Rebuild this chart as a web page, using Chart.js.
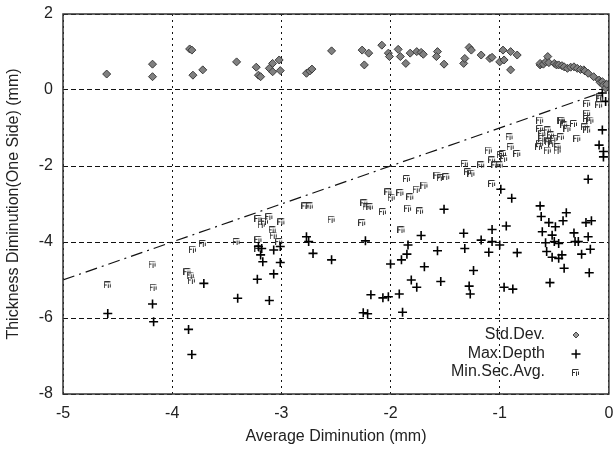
<!DOCTYPE html>
<html>
<head>
<meta charset="utf-8">
<script src="https://cdn.jsdelivr.net/npm/chart.js@4/dist/chart.umd.min.js"></script>
<style>
html,body{margin:0;padding:0;background:#fff;}
#wrap{width:615px;height:450px;position:relative;}
</style>
</head>
<body>
<div id="wrap"><canvas id="c" width="615" height="450"></canvas></div>
<script>
// ---- data ----
const xTicks = [-5, -4, -3, -2, -1, 0];
const yTicks = [2, 0, -2, -4, -6, -8];
const seriesNames = ['Std.Dev.', 'Max.Depth', 'Min.Sec.Avg.'];

const stdX = [-4.60,-4.18,-4.18,-3.84,-3.82,-3.81,-3.72,-3.41,-3.23,-3.21,-3.19,-3.11,-3.08,-3.08,-3.02,-3.01,-2.77,-2.74,-2.72,-2.54,-2.26,-2.20,-2.24,-2.08,-2.02,-2.01,-1.93,-1.91,-1.86,-1.82,-1.76,-1.72,-1.70,-1.57,-1.58,-1.51,-1.33,-1.32,-1.28,-1.26,-1.17,-1.09,-1.07,-1.00,-0.97,-0.96,-0.90,-0.84,-0.90,-0.63,-0.63,-0.60,-0.58,-0.56,-0.55,-0.50,-0.48,-0.46,-0.43,-0.41,-0.38,-0.35,-0.32,-0.29,-0.26,-0.23,-0.22,-0.19,-0.14,-0.09,-0.08,-0.06,-0.05,-0.03,-0.02];
const stdY = [0.42,0.68,0.35,1.08,1.05,0.39,0.53,0.74,0.60,0.39,0.35,0.57,0.70,0.48,0.79,0.51,0.44,0.50,0.55,1.03,1.05,0.97,0.66,1.18,0.97,0.88,1.07,0.88,0.70,0.97,1.01,0.99,0.94,1.01,0.88,0.68,0.70,0.83,1.12,1.05,0.92,0.83,0.86,0.74,1.05,0.79,1.01,0.92,0.53,0.66,0.70,0.68,0.74,0.88,0.72,0.70,0.66,0.66,0.64,0.61,0.57,0.60,0.61,0.57,0.54,0.53,0.50,0.44,0.35,0.26,0.20,0.22,0.13,0.05,0.15];

const maxX = [-4.59,-4.18,-4.17,-3.85,-3.82,-3.71,-3.40,-3.11,-3.22,-3.07,-3.21,-3.18,-3.19,-3.17,-3.07,-3.01,-3.01,-2.77,-2.75,-2.71,-2.54,-2.18,-2.23,-2.25,-2.21,-1.51,-1.72,-1.84,-1.85,-1.90,-2.00,-1.69,-1.57,-1.81,-1.76,-1.54,-1.33,-1.32,-1.28,-1.27,-1.24,-1.17,-1.07,-1.07,-1.10,-1.00,-0.94,-0.96,-0.88,-0.84,-2.07,-2.02,-1.92,-1.89,-0.99,-0.89,-0.63,-0.62,-0.61,-0.55,-0.49,-0.39,-0.42,-0.52,-0.58,-0.50,-0.46,-0.57,-0.52,-0.46,-0.43,-0.41,-0.54,-0.32,-0.31,-0.28,-0.21,-0.16,-0.19,-0.17,-0.25,-0.18,-0.06,-0.09,-0.05,-0.05,-0.19,-0.06,-0.03];
const maxY = [-5.88,-5.63,-6.10,-6.30,-6.96,-5.09,-5.48,-5.54,-4.98,-4.84,-4.12,-4.17,-4.34,-4.52,-4.21,-4.12,-4.54,-3.86,-3.99,-4.30,-4.47,-5.39,-3.97,-5.86,-5.89,-3.14,-3.83,-4.08,-4.32,-4.47,-4.58,-4.65,-4.23,-5.00,-5.19,-5.04,-3.77,-4.17,-5.16,-5.37,-4.75,-3.95,-3.67,-3.99,-4.27,-4.08,-3.58,-5.19,-5.24,-4.28,-5.47,-5.44,-5.37,-5.85,-2.61,-2.85,-3.05,-3.33,-3.73,-3.49,-3.60,-3.23,-3.44,-3.82,-4.02,-3.99,-4.04,-4.25,-4.40,-4.43,-4.34,-4.69,-5.07,-3.76,-3.99,-3.99,-3.49,-3.44,-3.86,-4.19,-4.32,-4.81,-1.05,-1.45,-1.62,-1.76,-2.35,-0.08,-0.30];

const minX = [-4.59,-4.18,-4.17,-3.86,-3.83,-3.82,-3.81,-3.72,-3.41,-3.21,-3.18,-3.11,-3.15,-3.21,-3.21,-3.08,-3.07,-3.02,-3.00,-2.78,-2.74,-2.54,-2.26,-2.24,-2.22,-2.19,-2.07,-2.02,-1.99,-1.91,-1.85,-1.82,-1.76,-1.69,-1.84,-1.73,-1.90,-1.57,-1.54,-1.49,-1.32,-1.29,-1.26,-1.17,-1.10,-1.07,-1.04,-0.97,-1.07,-0.99,-0.96,-0.91,-0.90,-0.84,-1.00,-0.63,-0.63,-0.63,-0.64,-0.61,-0.61,-0.56,-0.56,-0.56,-0.55,-0.53,-0.52,-0.50,-0.47,-0.47,-0.44,-0.44,-0.43,-0.41,-0.38,-0.32,-0.29,-0.22,-0.20,-0.20,-0.20,-0.20,-0.17,-0.09,-0.08,-0.08];
const minY = [-5.13,-4.58,-5.19,-4.78,-4.87,-5.00,-4.19,-4.04,-3.99,-3.38,-3.53,-3.33,-3.45,-3.93,-4.17,-3.68,-3.82,-3.99,-3.47,-3.05,-3.05,-3.40,-3.49,-2.97,-3.07,-3.07,-3.20,-2.68,-2.82,-2.70,-2.33,-2.81,-2.61,-2.50,-3.11,-3.18,-3.68,-2.24,-2.30,-2.28,-1.93,-2.15,-2.19,-1.97,-1.58,-1.84,-1.97,-1.67,-2.46,-1.70,-1.80,-1.23,-1.49,-1.67,-1.97,-0.79,-1.01,-1.40,-1.49,-1.14,-1.27,-1.05,-1.32,-1.58,-1.36,-1.18,-1.40,-1.27,-1.49,-1.58,-0.79,-1.23,-0.79,-0.92,-1.01,-0.88,-1.27,-0.97,-0.75,-0.35,-0.61,-1.05,-0.79,-0.39,-0.22,-0.18];

// reference line y = x
const refX = [-5, 0];
const refY = [-5, 0];

// ---- helpers ----
const pts = (xs, ys) => xs.map((x, i) => ({x: x, y: ys[i]}));

// small "Fi"-like glyph for Min.Sec.Avg.
function makeGlyph(){
  const c = document.createElement('canvas');
  c.width = 8; c.height = 7;
  const g = c.getContext('2d');
  g.strokeStyle = '#333'; g.lineWidth = 1;
  g.beginPath();
  g.moveTo(0.5, 7); g.lineTo(0.5, 0.5); g.lineTo(6.5, 0.5);
  g.moveTo(0.5, 3.5); g.lineTo(3, 3.5);
  g.moveTo(4.5, 2.5); g.lineTo(4.5, 7);
  g.moveTo(6.5, 2.5); g.lineTo(6.5, 6);
  g.stroke();
  return c;
}
const glyph = makeGlyph();

const FONT = "'Liberation Sans', Arial, sans-serif";

const framePlugin = {
  id: 'frame',
  afterDraw(chart){
    const {ctx, chartArea: a} = chart;
    ctx.save();
    ctx.strokeStyle = '#333';
    ctx.lineWidth = 1.5;
    ctx.setLineDash([]);
    ctx.strokeRect(a.left, a.top, a.right - a.left, a.bottom - a.top);
    // custom legend (text right aligned, marker on the right)
    const items = [
      {label: seriesNames[0], y: 335},
      {label: seriesNames[1], y: 354},
      {label: seriesNames[2], y: 372}
    ];
    ctx.font = '16px ' + FONT;
    ctx.fillStyle = '#222';
    ctx.textAlign = 'right';
    ctx.textBaseline = 'middle';
    const tx = 545, mx = 576;
    items.forEach((it, i) => {
      ctx.fillText(it.label, tx, it.y);
      if (i === 0){
        ctx.fillStyle = '#999'; ctx.strokeStyle = '#444'; ctx.lineWidth = 1;
        ctx.beginPath();
        ctx.moveTo(mx, it.y - 3); ctx.lineTo(mx + 3, it.y); ctx.lineTo(mx, it.y + 3); ctx.lineTo(mx - 3, it.y); ctx.closePath();
        ctx.fill(); ctx.stroke();
        ctx.fillStyle = '#222';
      } else if (i === 1){
        ctx.strokeStyle = '#000'; ctx.lineWidth = 1.5;
        ctx.beginPath();
        ctx.moveTo(mx - 4.5, it.y); ctx.lineTo(mx + 4.5, it.y);
        ctx.moveTo(mx, it.y - 4.5); ctx.lineTo(mx, it.y + 4.5);
        ctx.stroke();
      } else {
        ctx.drawImage(glyph, mx - 4, it.y - 3);
      }
    });
    ctx.restore();
  }
};

new Chart(document.getElementById('c'), {
  type: 'scatter',
  data: {
    datasets: [
      {
        label: 'ref',
        type: 'line',
        data: pts(refX, refY),
        borderColor: '#111',
        borderWidth: 1.2,
        borderDash: [12, 5, 2, 5],
        pointRadius: 0,
        fill: false,
        order: 4
      },
      {
        label: seriesNames[0],
        data: pts(stdX, stdY),
        pointStyle: 'rectRot',
        radius: 4,
        backgroundColor: '#808080',
        borderColor: '#3a3a3a',
        borderWidth: 1,
        order: 1
      },
      {
        label: seriesNames[1],
        data: pts(maxX, maxY),
        pointStyle: 'cross',
        radius: 4.5,
        borderColor: '#000',
        borderWidth: 1.6,
        order: 2
      },
      {
        label: seriesNames[2],
        data: pts(minX, minY),
        pointStyle: glyph,
        radius: 4,
        order: 3
      }
    ]
  },
  options: {
    responsive: false,
    animation: false,
    events: [],
    layout: {padding: {left: 0, right: 3, top: 14, bottom: 0}},
    plugins: {legend: {display: false}, tooltip: {enabled: false}},
    scales: {
      x: {
        type: 'linear', min: -5, max: 0,
        afterBuildTicks(s){ s.ticks = xTicks.map(v => ({value: v})); },
        afterFit(s){ s.height = 56; s.paddingLeft = 0; s.paddingRight = 0; },
        grid: {color: '#111', lineWidth: 1, drawTicks: false},
        border: {display: false, dash: [2, 4]},
        ticks: {color: '#222', font: {family: FONT, size: 16}, padding: 10, maxRotation: 0},
        title: {display: true, text: 'Average Diminution (mm)', color: '#222', font: {family: FONT, size: 16}, padding: {top: 2}}
      },
      y: {
        type: 'linear', min: -8, max: 2,
        afterBuildTicks(s){ s.ticks = yTicks.map(v => ({value: v})); },
        afterFit(s){ s.width = 63; s.paddingTop = 0; s.paddingBottom = 0; },
        grid: {color: '#111', lineWidth: 1, drawTicks: false},
        border: {display: false, dash: [5, 3]},
        ticks: {color: '#222', font: {family: FONT, size: 16}, padding: 10},
        title: {display: true, text: 'Thickness Diminution(One Side) (mm)', color: '#222', font: {family: FONT, size: 16}, padding: {bottom: 4}}
      }
    }
  },
  plugins: [framePlugin]
});
</script>
</body>
</html>
